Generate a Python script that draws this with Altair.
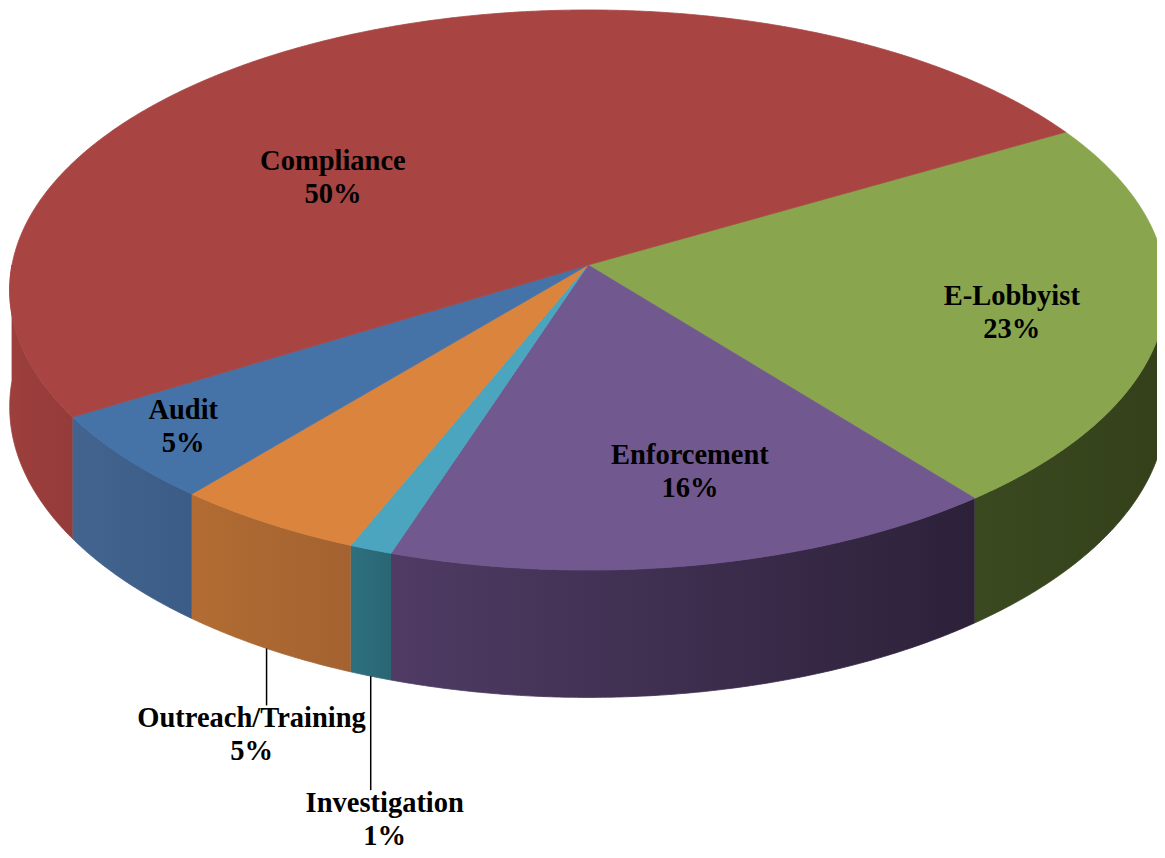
import altair as alt
import numpy as np
import pandas as pd

# ---------------- data ----------------
categories = ["E-Lobbyist", "Enforcement", "Investigation", "Outreach/Training", "Audit", "Compliance"]
values = [22.6, 15.8, 1.1, 4.9, 5.2, 50.4]

# ---------------- styles ----------------
top_colors = ["#89A54E", "#71588F", "#4BA5BE", "#DB843D", "#4572A7", "#A84542"]
side_left = ["#3B4921", "#4F3B64", "#2E707F", "#B26C33", "#42648F", "#9C3F3D"]
side_right = ["#334019", "#2C2139", "#2A6674", "#A36230", "#3B5C86", "#953B39"]

# projected (3-D, perspective) pie geometry, page pixel units
CX, CY = 588.0, 265.0       # apex of the pie
A, B = 576.0, 277.8         # horizontal / vertical radius
K = 0.0893                  # perspective factor
DEPTH = 116.0               # thickness of the pie
START = 30.0                # angle of first slice edge (degrees, counter-clockwise from 3 o'clock)

# label layout: inside labels as (angle, radius fraction); outside labels with a leader
inside_labels = {"Compliance": (144.6, 0.559), "E-Lobbyist": (-13.1, 0.744),
                 "Enforcement": (-76.6, 0.716), "Audit": (-140.4, 0.867)}
leader_labels = {"Outreach/Training": (57.0, -15.0), "Investigation": (114.0, 14.0)}
LINE_GAP = 33.0
FONT = "Liberation Serif"
FSIZE = 28.5


def proj(t_deg, r=1.0, drop=0.0):
    t = np.radians(t_deg)
    w = 1 + K * r * np.sin(t)
    x = CX + r * A * np.cos(t) / w
    y = CY - r * B * np.sin(t) / w + drop / w
    return float(x), float(y)


def arc(t0, t1, step=0.4):
    n = max(2, int(abs(t1 - t0) / step) + 1)
    return np.linspace(t0, t1, n)


total = sum(values)
rows = []
sides = []
label_rows = []
rule_rows = []
cum = 0.0
for i, (cat, v) in enumerate(zip(categories, values)):
    s = START - 360.0 * cum / total
    e = s - 360.0 * v / total
    cum += v
    mid = (s + e) / 2
    # top face wedge
    pts = [(CX, CY)] + [proj(t) for t in arc(s, e)] + [(CX, CY)]
    for j, (x, y) in enumerate(pts):
        rows.append({"poly": f"top{i}", "i": j, "x": x, "y": y})
    # front side wall
    for shift in (-360.0, 0.0, 360.0):
        lo = max(e + shift, -180.0)
        hi = min(s + shift, 0.0)
        if lo < hi:
            ts = arc(hi, lo)
            pts = [proj(t) for t in ts] + [proj(t, drop=DEPTH) for t in ts[::-1]]
            pid = f"side{i}_{int(shift)}"
            sides.append((pid, i))
            for j, (x, y) in enumerate(pts):
                rows.append({"poly": pid, "i": j, "x": x, "y": y})
    pct = f"{round(100 * v / total)}%"
    if cat in inside_labels:
        ang, rf = inside_labels[cat]
        lx, ly = proj(ang, r=rf)
    else:
        length, dx = leader_labels[cat]
        bx, by = proj(mid, drop=DEPTH)
        rule_rows.append({"x": bx, "y": by, "y2": by + length})
        lx, ly = bx + dx, by + length + 13 + LINE_GAP / 2
    label_rows.append({"x": lx, "y": ly - LINE_GAP / 2, "t": cat})
    label_rows.append({"x": lx, "y": ly + LINE_GAP / 2, "t": pct})

poly_df = pd.DataFrame(rows)
label_df = pd.DataFrame(label_rows)
rule_df = pd.DataFrame(rule_rows)

xs = alt.Scale(domain=[8, 1157], nice=False, zero=False)
ys = alt.Scale(domain=[8, 850], nice=False, zero=False, reverse=True)


def enc(ch):
    return ch.encode(
        x=alt.X("x:Q", scale=xs, axis=None),
        y=alt.Y("y:Q", scale=ys, axis=None),
        order=alt.Order("i:Q"),
    )


layers = []
for pid, i in sides:
    grad = alt.LinearGradient(
        gradient="linear",
        stops=[alt.GradientStop(color=side_left[i], offset=0),
               alt.GradientStop(color=side_right[i], offset=1)],
        x1=0, x2=1, y1=0, y2=0,
    )
    layers.append(enc(alt.Chart(poly_df).transform_filter(alt.datum.poly == pid)
                      .mark_line(fill=grad, stroke=grad, strokeWidth=0.8, interpolate="linear")))
for i in range(len(categories)):
    pid = f"top{i}"
    layers.append(enc(alt.Chart(poly_df).transform_filter(alt.datum.poly == pid)
                      .mark_line(fill=top_colors[i], stroke=top_colors[i], strokeWidth=0.8)))

rules = alt.Chart(rule_df).mark_rule(color="black", strokeWidth=1.5).encode(
    x=alt.X("x:Q", scale=xs, axis=None),
    y=alt.Y("y:Q", scale=ys, axis=None),
    y2="y2:Q",
)
texts = alt.Chart(label_df).mark_text(
    font=FONT, fontWeight="bold", fontSize=FSIZE, color="black",
    align="center", baseline="middle",
).encode(
    x=alt.X("x:Q", scale=xs, axis=None),
    y=alt.Y("y:Q", scale=ys, axis=None),
    text="t:N",
)

chart = alt.layer(*layers, rules, texts).properties(
    width=1149, height=842, padding=0, autosize="none", background="white"
).configure_view(strokeWidth=0)

chart.save("out.html", embed_options={"renderer": "svg", "actions": False})
